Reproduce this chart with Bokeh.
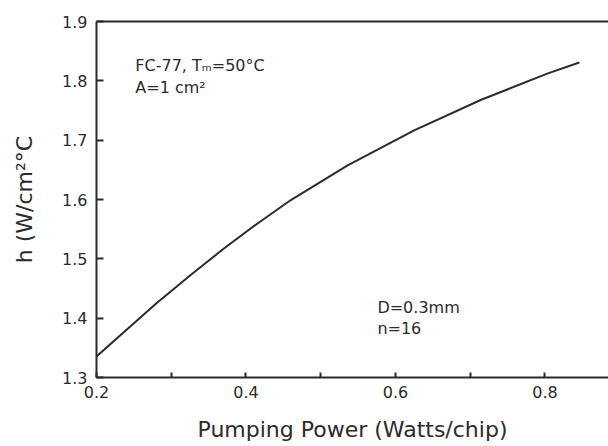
from bokeh.plotting import figure
from bokeh.models import Range1d, FixedTicker, LinearAxis, Label
from bokeh.embed import file_html
from bokeh.resources import INLINE

# data
pumping_power = [0.200, 0.2365, 0.281, 0.326, 0.370, 0.415, 0.460, 0.536, 0.625, 0.714, 0.803, 0.846]
h_coeff = [1.3354, 1.3764, 1.4260, 1.4726, 1.5170, 1.5592, 1.5991, 1.6575, 1.7165, 1.7677, 1.8121, 1.8308]
x_major = [0.2, 0.4, 0.6, 0.8]
x_minor = [0.3, 0.5, 0.7]
y_major = [1.3, 1.4, 1.5, 1.6, 1.7, 1.8, 1.9]

FONT = "DejaVu Sans"
INK = "#2b2b2b"

W, H = 608, 446
p = figure(width=W, height=H, output_backend="svg", toolbar_location=None,
           x_range=Range1d(0.2, 0.885), y_range=Range1d(1.3, 1.9),
           min_border_left=96, min_border_right=0, min_border_top=21,
           min_border_bottom=69, x_axis_location=None, y_axis_location=None)
p.grid.visible = False
p.outline_line_color = None
p.background_fill_color = "white"
p.border_fill_color = "white"

def style(ax):
    ax.axis_line_color = INK
    ax.axis_line_width = 2
    ax.major_tick_line_color = INK
    ax.major_tick_line_width = 2
    ax.minor_tick_line_color = INK
    ax.minor_tick_line_width = 2
    ax.major_tick_out = 0
    ax.minor_tick_out = 0
    ax.major_label_text_font = FONT
    ax.major_label_text_font_size = "16px"
    ax.major_label_text_color = INK
    ax.axis_label_text_font = FONT
    ax.axis_label_text_font_size = "22px"
    ax.axis_label_text_font_style = "normal"
    ax.axis_label_text_color = INK

xa = LinearAxis(ticker=FixedTicker(ticks=x_major, minor_ticks=x_minor),
                axis_label="Pumping Power (Watts/chip)")
style(xa)
xa.major_tick_in = 5
xa.minor_tick_in = 5
xa.major_label_standoff = 8
xa.axis_label_standoff = 16
p.add_layout(xa, "below")

ya = LinearAxis(ticker=FixedTicker(ticks=y_major, minor_ticks=[]),
                axis_label="h (W/cm²°C")
style(ya)
ya.major_tick_in = 7
ya.minor_tick_in = 0
ya.major_label_standoff = 9
ya.axis_label_standoff = 22
p.add_layout(ya, "left")

top = LinearAxis(ticker=FixedTicker(ticks=[], minor_ticks=[]))
style(top)
top.major_label_text_font_size = "0px"
top.major_tick_in = 0
top.minor_tick_in = 0
top.major_label_standoff = 0
p.add_layout(top, "above")

p.line(pumping_power, h_coeff, line_color=INK, line_width=2)

def note(x, y, t):
    p.add_layout(Label(x=x, y=y, text=t, text_font=FONT, text_font_size="16px",
                       text_color=INK, text_baseline="alphabetic"))

note(0.252, 1.8266, "FC-77, Tₘ=50°C")
note(0.252, 1.788, "A=1 cm²")
note(0.5758, 1.4187, "D=0.3mm")
note(0.5758, 1.3822, "n=16")

open("out.html", "w").write(file_html(p, INLINE))
